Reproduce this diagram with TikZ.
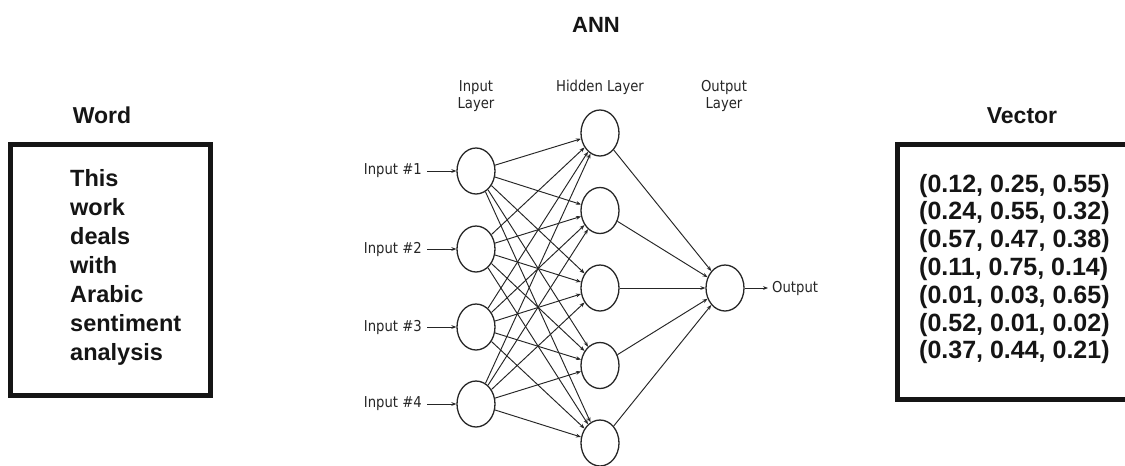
\documentclass[tikz,border=0pt]{standalone}
\usepackage{fontspec}
\setmainfont{Liberation Sans}
\newfontfamily\netfont[FakeStretch=0.88]{DejaVu Sans}
\usetikzlibrary{shapes.geometric,arrows.meta}

\definecolor{ink}{HTML}{151515}
\definecolor{netgray}{HTML}{262626}

\tikzset{
  title/.style={font=\fontsize{23}{26}\selectfont\bfseries, text=ink, inner sep=0pt, anchor=base},
  bodyline/.style={font=\fontsize{23.5}{26}\selectfont\bfseries, text=ink, inner sep=0pt, anchor=base west},
  vecline/.style={font=\fontsize{25}{28}\selectfont\bfseries, text=ink, inner sep=0pt, anchor=base west},
  thickbox/.style={draw=ink, line width=5pt, inner sep=0pt},
  neuron/.style={ellipse, draw=netgray, line width=1.3pt, minimum width=38pt, minimum height=46pt, inner sep=0pt},
  netlabel/.style={font=\netfont\fontsize{15}{17.5}\selectfont, text=netgray, inner sep=0pt, align=center},
  link/.style={draw=netgray, line width=0.95pt, -{Stealth[length=5pt,width=3.8pt]}},
}

\begin{document}
\begin{tikzpicture}[x=1pt,y=-1pt]
\useasboundingbox (0,0) rectangle (1125,466);
\fill[white] (0,0) rectangle (1125,466);

% titles
\node[title, font=\fontsize{22}{25}\selectfont\bfseries] (anntitle) at (596,32) {ANN};
\node[title] (wordtitle) at (102,123) {Word};
\node[title] (vectitle) at (1022,123) {Vector};

% word box
\node[thickbox, minimum width=200pt, minimum height=251pt] (wordbox) at (110.5,270) {};
\foreach \w [count=\i] in {This,work,deals,with,Arabic,sentiment,analysis}
  \node[bodyline] (word\i) at (70,{178+29*(\i-1)+8.5}) {\w};

% vector box (runs past the right edge)
\node[thickbox, minimum width=240pt, minimum height=255pt] (vecbox) at (1017.5,272) {};
\foreach \v [count=\i] in {{(0.12, 0.25, 0.55)},{(0.24, 0.55, 0.32)},{(0.57, 0.47, 0.38)},{(0.11, 0.75, 0.14)},{(0.01, 0.03, 0.65)},{(0.52, 0.01, 0.02)},{(0.37, 0.44, 0.21)}}
  \node[vecline] (vec\i) at (919,{183+27.8*(\i-1)+9}) {\v};

% layer headings
\node[netlabel] (inhead) at (476,96) {Input\\[-1pt]Layer};
\node[netlabel] (hidhead) at (600,87) {Hidden Layer};
\node[netlabel] (outhead) at (724,96) {Output\\[-1pt]Layer};

% input layer
\foreach \y [count=\i] in {171,249,327,404}{
  \node[neuron] (in\i) at (476,\y) {};
  \node[netlabel, anchor=east, inner xsep=5pt] (inlab\i) at (427,\y) {Input \#\i};
  \draw[link] (inlab\i) -- (in\i);
}

% hidden layer
\foreach \y [count=\j] in {133,210.5,288,365.5,443}
  \node[neuron] (hid\j) at (600,\y) {};

% output layer
\node[neuron] (out) at (725,288) {};
\node[netlabel, anchor=west, inner xsep=4pt] (outlab) at (768,288) {Output};
\draw[link] (out) -- (outlab);

% connections
\foreach \i in {1,...,4}
  \foreach \j in {1,...,5}
    \draw[link] (in\i) -- (hid\j);
\foreach \j in {1,...,5}
  \draw[link] (hid\j) -- (out);
\end{tikzpicture}
\end{document}
